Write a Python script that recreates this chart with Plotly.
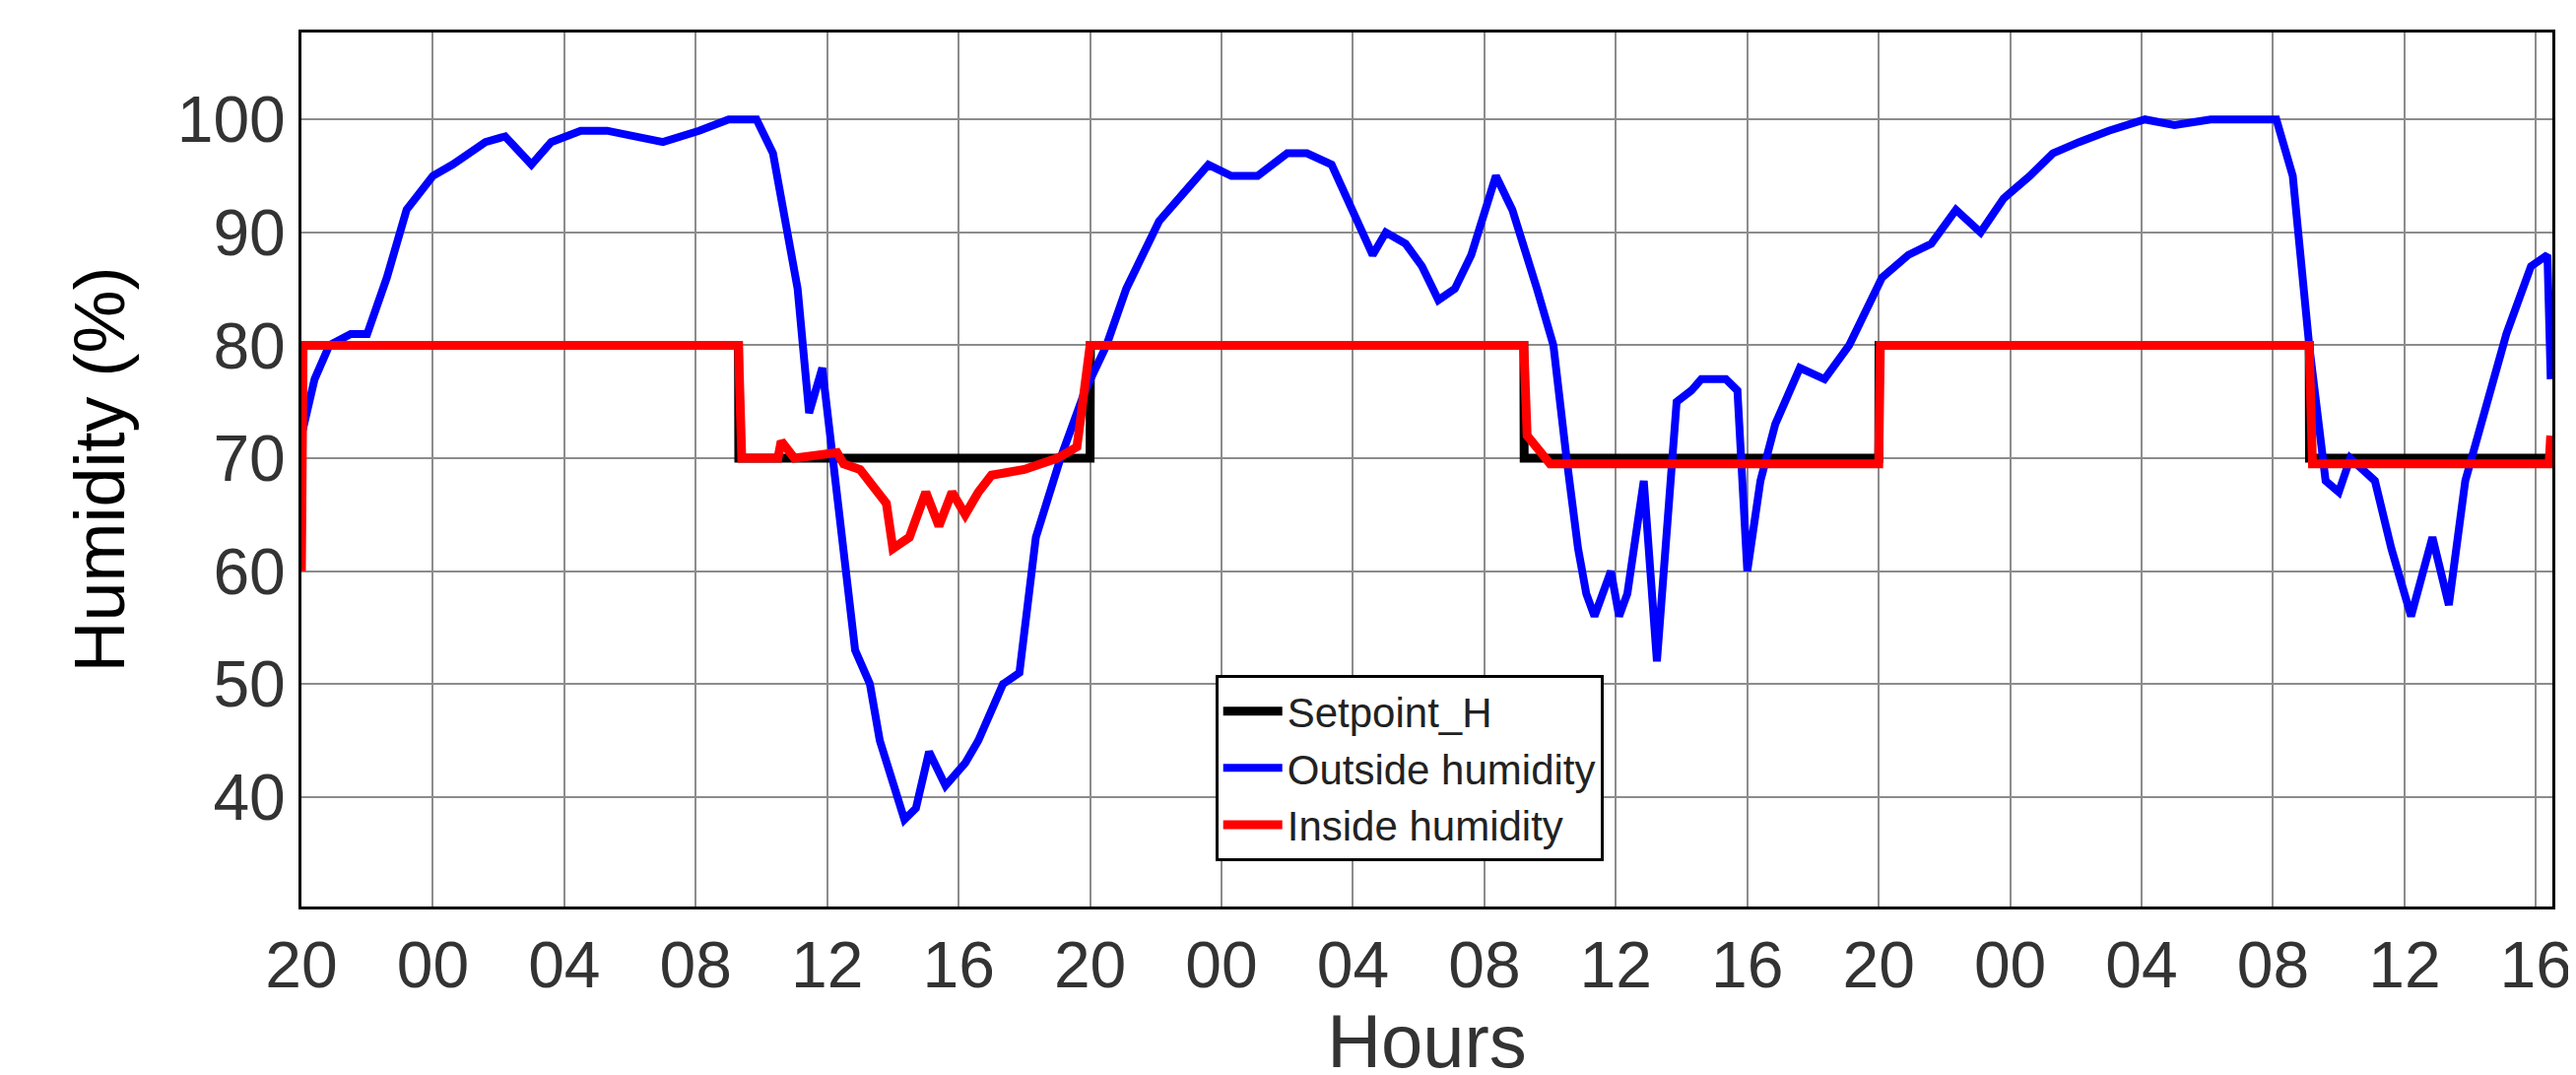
import plotly.graph_objects as go

# hours since 20:00 on day 1
setpoint_h = [0, 13.3, 13.31, 24.0, 24.01, 37.2, 37.21, 48.0, 48.01, 61.1, 61.11, 68.5]
setpoint_v = [80, 80, 70, 70, 80, 80, 70, 70, 80, 80, 70, 70]

outside_h = [0, 0.4, 0.85, 1.5, 2.0, 2.6, 3.2, 4.0, 4.6, 5.1, 5.6, 6.2, 7.0, 7.6, 8.5, 9.3,
             10.1, 11.0, 12.1, 13.0, 13.85, 14.35, 15.1, 15.45, 15.85, 16.35, 16.85, 17.3, 17.6,
             18.35, 18.7, 19.1, 19.6, 20.2, 20.6, 21.35, 21.85, 22.35, 23.1, 23.85, 24.5, 25.1,
             26.1, 27.0, 27.6, 28.3, 29.1, 30.0, 30.6, 31.35, 32.0, 32.6, 33.0, 33.6, 34.1, 34.6,
             35.1, 35.6, 36.35, 36.85, 37.6, 38.1, 38.5, 38.85, 39.1, 39.35, 39.85, 40.1, 40.35,
             40.85, 41.25, 41.85, 42.3, 42.6, 43.35, 43.7, 44.0, 44.4, 44.85, 45.6, 46.35, 47.1,
             48.1, 48.9, 49.6, 50.35, 51.1, 51.8, 52.6, 53.3, 54.1, 55.0, 56.1, 57.0, 58.1, 59.0,
             60.1, 60.6, 61.1, 61.6, 62.0, 62.35, 63.1, 63.6, 64.2, 64.85, 65.35, 65.85, 66.35,
             67.1, 67.85, 68.35, 68.45]
outside_v = [72, 77, 80, 81, 81, 86, 92, 95, 96, 97, 98, 98.5, 96, 98, 99, 99,
             98.5, 98, 99, 100, 100, 97, 85, 74, 78, 65, 53, 50, 45,
             38, 39, 44, 41, 43, 45, 50, 51, 63, 70, 76, 80, 85,
             91, 94, 96, 95, 95, 97, 97, 96, 92, 88, 90, 89, 87, 84,
             85, 88, 95, 92, 85, 80, 70, 62, 58, 56, 60, 56, 58,
             68, 52, 75, 76, 77, 77, 76, 60, 68, 73, 78, 77, 80,
             86, 88, 89, 92, 90, 93, 95, 97, 98, 99, 100, 99.5, 100, 100,
             100, 95, 80, 68, 67, 70, 68, 62, 56, 63, 57, 68, 73,
             81, 87, 88, 77]

inside_h = [0, 0.05, 13.3, 13.4, 14.5, 14.6, 15.0, 16.3, 16.5, 17.0, 17.8, 18.0, 18.5, 19.0,
            19.4, 19.8, 20.2, 20.6, 21.0, 22.0, 23.0, 23.6, 24.0, 37.2, 37.3, 37.6, 38.0,
            48.0, 48.05, 61.1, 61.2, 68.4, 68.45]
inside_v = [60, 80, 80, 70, 70, 71.5, 70, 70.5, 69.5, 69, 66, 62, 63, 67,
            64, 67, 65, 67, 68.5, 69, 70, 71, 80, 80, 72, 71, 69.5,
            69.5, 80, 80, 69.5, 69.5, 72]

tick_vals = list(range(0, 69, 4))
tick_text = ["20", "00", "04", "08", "12", "16"] * 3

fig = go.Figure()
fig.add_trace(go.Scatter(x=setpoint_h, y=setpoint_v, mode="lines", name="Setpoint_H",
                         line=dict(color="black", width=9)))
fig.add_trace(go.Scatter(x=outside_h, y=outside_v, mode="lines", name="Outside humidity",
                         line=dict(color="#0000ff", width=8)))
fig.add_trace(go.Scatter(x=inside_h, y=inside_v, mode="lines", name="Inside humidity",
                         line=dict(color="#ff0000", width=9)))

axis_common = dict(showline=True, linecolor="black", linewidth=3, mirror=True,
                   gridcolor="#8c8c8c", gridwidth=2, zeroline=False, ticks="",
                   tickfont=dict(family="Liberation Sans", size=66, color="#333333"))
fig.update_xaxes(range=[0, 68.5], tickvals=tick_vals, ticktext=tick_text,
                 title=dict(text="Hours", font=dict(family="Liberation Sans", size=76, color="#333333")),
                 **axis_common)
fig.update_yaxes(range=[30.3, 107.7], tickvals=[40, 50, 60, 70, 80, 90, 100],
                 title=dict(text="Humidity (%)", font=dict(family="Liberation Sans", size=72, color="black"),
                            standoff=30),
                 **axis_common)

fig.update_layout(
    width=2615, height=1091,
    margin=dict(l=298, r=25, t=25, b=179),
    plot_bgcolor="white", paper_bgcolor="white",
    legend=dict(x=0.406, y=0.265, xanchor="left", yanchor="top",
                bgcolor="white", bordercolor="black", borderwidth=3,
                itemwidth=60,
                font=dict(family="Liberation Sans", size=42, color="#222222")),
)

fig.write_html("out.html")
